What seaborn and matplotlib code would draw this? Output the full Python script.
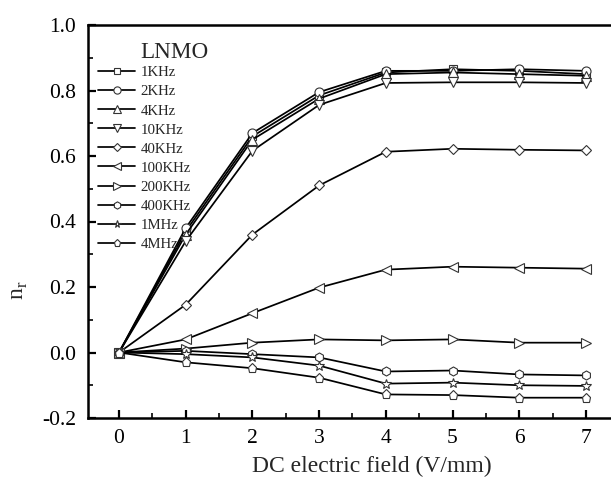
import numpy as np
import pandas as pd
import seaborn as sns
import matplotlib
matplotlib.use("Agg")
import matplotlib.pyplot as plt
from matplotlib.ticker import MultipleLocator

field = [0, 1, 2, 3, 4, 5, 6, 7]
freqs = ["1KHz", "2KHz", "4KHz", "10KHz", "40KHz", "100KHz", "200KHz", "400KHz", "1MHz", "4MHz"]
nr_1k = [0, 0.37, 0.66, 0.785, 0.855, 0.865, 0.86, 0.85]
nr_2k = [0, 0.38, 0.67, 0.795, 0.86, 0.86, 0.865, 0.86]
nr_4k = [0, 0.36, 0.65, 0.775, 0.85, 0.855, 0.85, 0.845]
nr_10k = [0, 0.34, 0.616, 0.756, 0.823, 0.825, 0.825, 0.823]
nr_40k = [0, 0.146, 0.36, 0.51, 0.613, 0.622, 0.619, 0.617]
nr_100k = [0, 0.04, 0.12, 0.198, 0.253, 0.262, 0.259, 0.256]
nr_200k = [0, 0.012, 0.03, 0.04, 0.037, 0.04, 0.03, 0.03]
nr_400k = [0, 0.005, -0.005, -0.015, -0.058, -0.055, -0.067, -0.07]
nr_1m = [0, -0.005, -0.015, -0.04, -0.095, -0.092, -0.1, -0.102]
nr_4m = [0, -0.03, -0.048, -0.077, -0.128, -0.13, -0.138, -0.138]
series = [nr_1k, nr_2k, nr_4k, nr_10k, nr_40k, nr_100k, nr_200k, nr_400k, nr_1m, nr_4m]
markers = ["s", "o", "^", "v", "D", "<", ">", "h", "*", "p"]
msizes = [6, 6.5, 6.5, 6.5, 5.5, 6.5, 6.5, 6.5, 7, 6.5]

sns.set_theme(style="ticks")
plt.rcParams["font.family"] = ["Liberation Serif", "DejaVu Serif"]
plt.rcParams["mathtext.fontset"] = "custom"
plt.rcParams["mathtext.rm"] = "Liberation Serif"
plt.rcParams["axes.unicode_minus"] = False

W, H = 611, 482
fig = plt.figure(figsize=(W / 100, H / 100), dpi=100)
# axes: left spine at 88 px, x=0 at 119 px, 66.7 px/unit; y from 25 (1.0) to 418 (-0.2)
xmin, xmax = -0.465, 7.5
left = 88 / W
width = (xmax - xmin) * 66.7 / W
bottom = 1 - 418 / H
height = (418 - 25) / H
ax = fig.add_axes([left, bottom, width, height])

for name, vals, m, ms in zip(freqs, series, markers, msizes):
    df = pd.DataFrame({"field": field, "nr": vals})
    sns.lineplot(data=df, x="field", y="nr", ax=ax, color="black", lw=1.25,
                 marker=m, markersize=ms, markerfacecolor="white",
                 markeredgecolor="#333333", markeredgewidth=0.8,
                 label=name, legend=False, clip_on=False, zorder=3)

ax.set_xlim(xmin, xmax)
ax.set_ylim(-0.2, 1.0)
ax.xaxis.set_major_locator(MultipleLocator(1))
ax.xaxis.set_minor_locator(MultipleLocator(0.5))
ax.yaxis.set_major_locator(MultipleLocator(0.2))
ax.yaxis.set_minor_locator(MultipleLocator(0.1))
ax.set_xticks(range(0, 8))
ax.set_yticks([-0.2, 0.0, 0.2, 0.4, 0.6, 0.8, 1.0])
ax.set_yticklabels(["-0.2", "0.0", "0.2", "0.4", "0.6", "0.8", "1.0"])
ax.tick_params(which="major", direction="in", length=6, width=1.6, labelsize=15.5,
               colors="black")
ax.tick_params(axis="y", which="major", pad=8.5)
ax.tick_params(axis="x", which="major", pad=8)
ax.tick_params(which="minor", direction="in", length=3.5, width=1.4)
ax.tick_params(top=False, right=False, which="both")
for s in ax.spines.values():
    s.set_linewidth(1.8)
    s.set_color("black")
ax.set_xlabel("")
ax.set_ylabel("")

fig.text(252 / W, 1 - 466 / H, "DC electric field (V/mm)", ha="left", va="center",
         fontsize=17)
fig.text(20 / W, 1 - 290 / H, r"n$_\mathregular{r}$", ha="center", va="center",
         fontsize=17, rotation=90)
fig.text(140 / W, 1 - 52 / H, "LNMO", ha="left", va="center", fontsize=16.7)

handles, labels = ax.get_legend_handles_labels()
leg = ax.legend(handles, labels, loc="upper left",
                bbox_to_anchor=(98 / W, 1 - 66 / H), bbox_transform=fig.transFigure,
                frameon=False, fontsize=10.7, handlelength=2.5, handletextpad=0.35,
                labelspacing=0.38, borderpad=0, borderaxespad=0, markerscale=0.8)

fig.savefig("out.png", dpi=100)
